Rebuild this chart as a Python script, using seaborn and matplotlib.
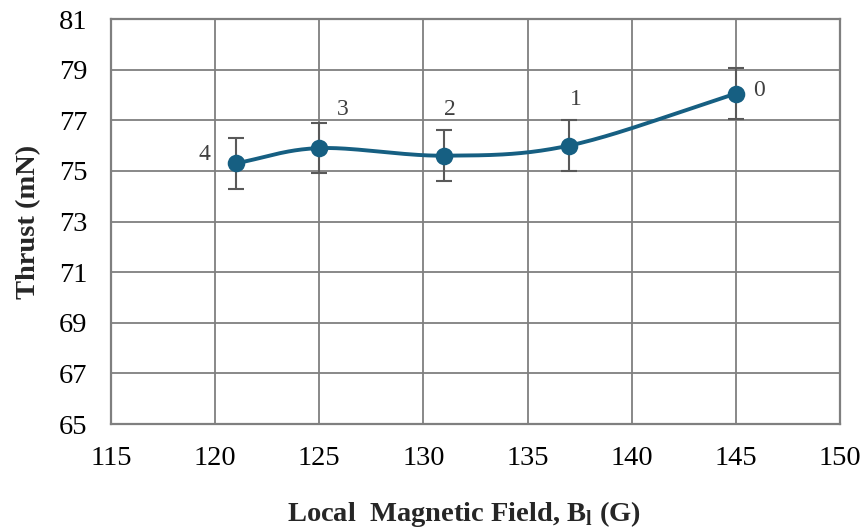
import numpy as np
import pandas as pd
import seaborn as sns
import matplotlib
matplotlib.use('Agg')
import matplotlib.pyplot as plt

# data
field = [121, 125, 131, 137, 145]
thrust = [75.3, 75.9, 75.6, 76.0, 78.05]
err = [1.0, 1.0, 1.0, 1.0, 1.0]
point_labels = ['4', '3', '2', '1', '0']

df = pd.DataFrame({'field': field, 'thrust': thrust, 'err': err, 'label': point_labels})

sns.set_theme(style='white')
plt.rcParams['font.family'] = ['Liberation Serif', 'DejaVu Serif']

line_col = '#165f82'
grid_col = '#7f7f7f'

fig = plt.figure(figsize=(8.64, 5.31), dpi=100)
ax = fig.add_axes([0.1285, 0.2015, 0.8437, 0.7627])


# smooth curve through the points (Catmull-Rom, like the spreadsheet "smoothed line")
def smooth(xs, ys, n=40):
    xs = np.asarray(xs, float)
    ys = np.asarray(ys, float)
    px = np.concatenate([[2 * xs[0] - xs[1]], xs, [2 * xs[-1] - xs[-2]]])
    py = np.concatenate([[2 * ys[0] - ys[1]], ys, [2 * ys[-1] - ys[-2]]])
    ox, oy = [], []
    t = np.linspace(0, 1, n)
    for i in range(1, len(px) - 2):
        for p, o in ((px, ox), (py, oy)):
            p0, p1, p2, p3 = p[i - 1], p[i], p[i + 1], p[i + 2]
            seg = 0.5 * ((2 * p1) + (-p0 + p2) * t + (2 * p0 - 5 * p1 + 4 * p2 - p3) * t ** 2
                         + (-p0 + 3 * p1 - 3 * p2 + p3) * t ** 3)
            o.extend(seg)
    return np.array(ox), np.array(oy)


sx, sy = smooth(df['field'], df['thrust'])
sns.lineplot(x=sx, y=sy, ax=ax, color=line_col, linewidth=2.8, sort=False, zorder=3)
ax.errorbar(df['field'], df['thrust'], yerr=df['err'], fmt='none', ecolor='#595959',
            elinewidth=1.5, capsize=6, capthick=1.5, zorder=2)
sns.scatterplot(data=df, x='field', y='thrust', ax=ax, color=line_col, s=160,
                edgecolor=line_col, linewidth=0, zorder=4)

# point labels
offsets = [(-23, 6), (17, 28), (4, 33), (5, 33), (17, 2)]
for (xv, yv, lab), (dx, dy) in zip(zip(df['field'], df['thrust'], df['label']), offsets):
    ax.annotate(lab, (xv, yv), xytext=(dx, dy), textcoords='offset points',
                ha='center', va='center', fontsize=17, color='#404040')

ax.set_xlim(115, 150)
ax.set_ylim(65, 81)
ax.set_xticks(np.arange(115, 151, 5))
ax.set_yticks(np.arange(65, 82, 2))
ax.grid(True, color=grid_col, linewidth=1.3)
ax.set_axisbelow(True)
for s in ax.spines.values():
    s.set_color(grid_col)
    s.set_linewidth(1.6)

ax.tick_params(axis='both', labelsize=20.5, colors='black', length=0)
ax.tick_params(axis='y', pad=17)
ax.tick_params(axis='x', pad=16)
ax.set_xlabel('Local  Magnetic Field, B$_\\mathregular{l}$ (G)', fontsize=20.5, fontweight='bold', labelpad=20)
ax.xaxis.label.set_x(0.484)
ax.set_ylabel('Thrust (mN)', fontsize=20.5, fontweight='bold', labelpad=13)

fig.savefig('out.png', dpi=100)
